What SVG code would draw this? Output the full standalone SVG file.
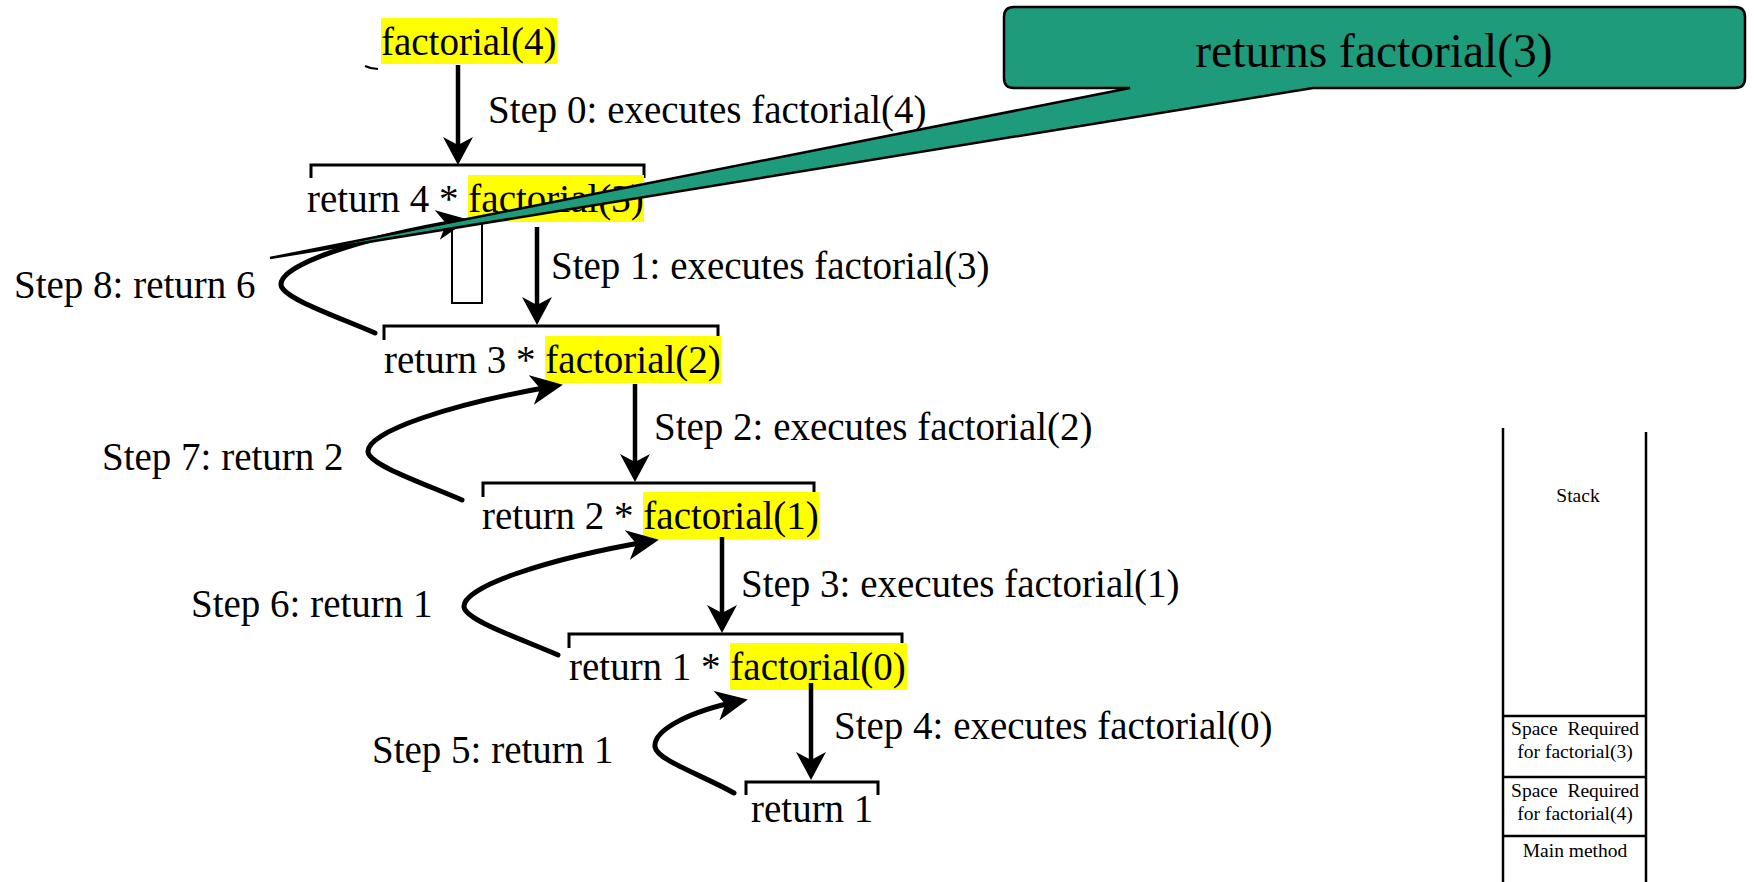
<svg xmlns="http://www.w3.org/2000/svg" width="1754" height="882" viewBox="0 0 1754 882">
<style>
text{font-family:"Liberation Serif","Times New Roman",serif;fill:#000}
.t{font-size:39px}
.s{font-size:19.5px}
.hl{fill:#ffff00}
.br{fill:none;stroke:#000;stroke-width:3}
.va{fill:none;stroke:#000;stroke-width:4.5;marker-end:url(#ah)}
.cv{fill:none;stroke:#000;stroke-width:5;stroke-linecap:round;marker-end:url(#ahc)}
.stk{stroke:#000;stroke-width:2.5;fill:none}
</style>
<defs>
<marker id="ah" markerUnits="userSpaceOnUse" markerWidth="28" markerHeight="30" viewBox="0 0 28 30" refX="20" refY="15" orient="auto"><path d="M0,0 L28,15 L0,30 L8,15 Z" fill="#000"/></marker>
<marker id="ahc" markerUnits="userSpaceOnUse" markerWidth="32" markerHeight="30" viewBox="0 0 32 30" refX="24" refY="15" orient="auto"><path d="M0,0 L32,15 L0,30 L9,15 Z" fill="#000"/></marker>
</defs>
<rect width="1754" height="882" fill="#fff"/>

<g id="node-factorial4">
<rect class="hl" x="381" y="18" width="176" height="46"/>
<text class="t" x="381" y="55">factorial(4)</text>
<path d="M365,66 Q371,69 378,69" fill="none" stroke="#000" stroke-width="2"/>
</g>

<g id="node-return4">
<path class="br" d="M311,178 V165 H644 V178"/>
<rect class="hl" x="468" y="175" width="176" height="47"/>
<text class="t" x="307" y="212">return 4 * factorial(3)</text>
</g>

<g id="node-frame-box">
<rect x="452" y="220" width="30" height="83" fill="none" stroke="#000" stroke-width="2"/>
</g>

<g id="node-return3">
<path class="br" d="M384,340 V326 H718 V340"/>
<rect class="hl" x="545" y="336" width="176" height="47"/>
<text class="t" x="384" y="373">return 3 * factorial(2)</text>
</g>

<g id="node-return2">
<path class="br" d="M483,497 V483 H814 V497"/>
<rect class="hl" x="643" y="492" width="176" height="47"/>
<text class="t" x="482" y="529">return 2 * factorial(1)</text>
</g>

<g id="node-return1x">
<path class="br" d="M569,648 V634 H902 V648"/>
<rect class="hl" x="730" y="643" width="177" height="47"/>
<text class="t" x="569" y="680">return 1 * factorial(0)</text>
</g>

<g id="node-return1">
<path class="br" d="M746,795 V782 H878 V795"/>
<text class="t" x="751" y="822">return 1</text>
</g>

<g id="connectors">
<path class="va" d="M458,65 V157"/>
<path class="va" d="M537,227 V317"/>
<path class="va" d="M635,384 V474"/>
<path class="va" d="M722,537 V625"/>
<path class="va" d="M811,683 V772"/>
<path class="cv" d="M375,333 C333,315 283,298 281,285 C279,265 360,238 461,221"/>
<path class="cv" d="M462,500 C420,482 370,465 368,452 C366,432 450,404 555,386"/>
<path class="cv" d="M558,655 C516,637 466,620 464,607 C462,587 546,559 651,541"/>
<path class="cv" d="M734,793 C700,774 657,760 655,747 C653,730 690,711 740,701"/>
<text class="t" x="488" y="123">Step 0: executes factorial(4)</text>
<text class="t" x="551" y="279">Step 1: executes factorial(3)</text>
<text class="t" x="654" y="440">Step 2: executes factorial(2)</text>
<text class="t" x="741" y="597">Step 3: executes factorial(1)</text>
<text class="t" x="834" y="739">Step 4: executes factorial(0)</text>
<text class="t" x="14" y="298">Step 8: return 6</text>
<text class="t" x="102" y="470">Step 7: return 2</text>
<text class="t" x="191" y="617">Step 6: return 1</text>
<text class="t" x="372" y="763">Step 5: return 1</text>
</g>

<g id="node-stack">
<path class="stk" d="M1503,428 V882 M1646,432 V882 M1503,716 H1646 M1503,777 H1646 M1503,836 H1646"/>
<text class="s" x="1578" y="502" text-anchor="middle">Stack</text>
<text class="s" x="1575" y="735" text-anchor="middle" xml:space="preserve">Space  Required</text>
<text class="s" x="1575" y="758" text-anchor="middle">for factorial(3)</text>
<text class="s" x="1575" y="797" text-anchor="middle" xml:space="preserve">Space  Required</text>
<text class="s" x="1575" y="820" text-anchor="middle">for factorial(4)</text>
<text class="s" x="1575" y="857" text-anchor="middle">Main method</text>
</g>

<g id="node-callout">
<path d="M1014,7 H1735 Q1745,7 1745,17 V78 Q1745,88 1735,88 H1313 L270,258 L1130,88 H1014 Q1004,88 1004,78 V17 Q1004,7 1014,7 Z" fill="#1e9b7a" stroke="#000" stroke-width="2.5"/>
<text x="1374" y="67" text-anchor="middle" style="font-size:47.5px">returns factorial(3)</text>
</g>
</svg>
